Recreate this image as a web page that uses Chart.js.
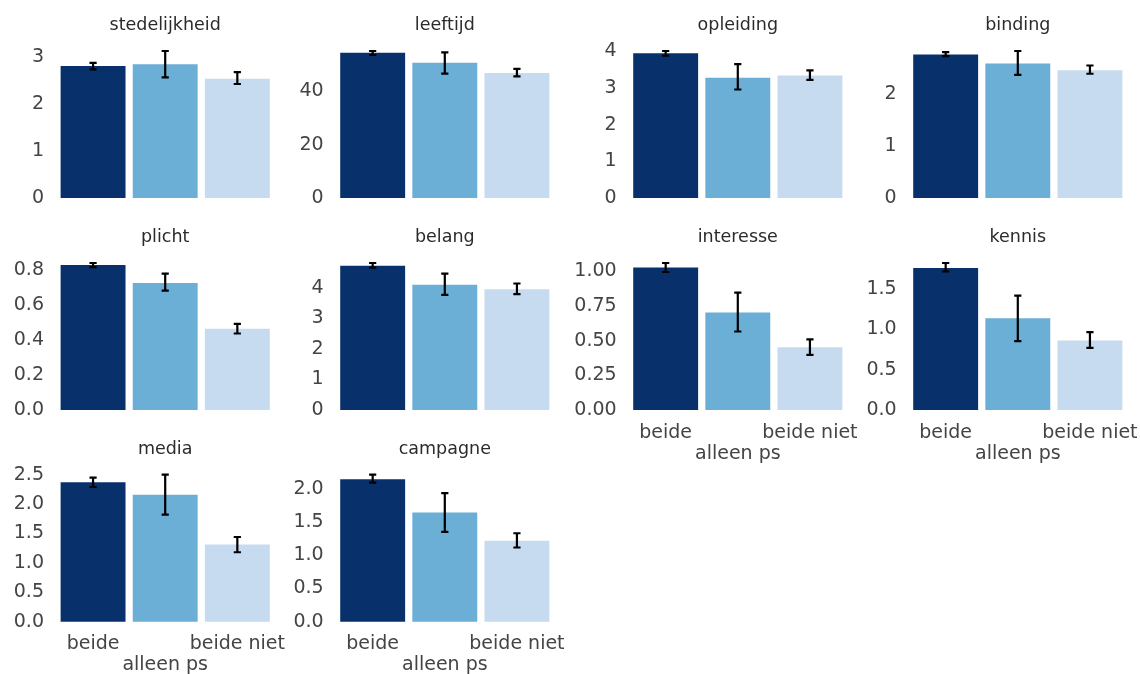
<!DOCTYPE html>
<html>
<head>
<meta charset="utf-8">
<script src="https://cdn.jsdelivr.net/npm/chart.js@4.4.1/dist/chart.umd.min.js"></script>
<style>
  html, body { margin: 0; padding: 0; background: #fff; }
  #wrap { position: relative; width: 1140px; height: 674px; overflow: hidden; }
  #wrap canvas { position: absolute; }
</style>
</head>
<body>
<div id="wrap"></div>
<script>
const categories = ['beide', 'alleen ps', 'beide niet'];
const titles = ['stedelijkheid', 'leeftijd', 'opleiding', 'binding',
                'plicht', 'belang', 'interesse', 'kennis',
                'media', 'campagne'];

// bar heights (means) per panel, in category order
const means = [
  [2.80, 2.84, 2.53],
  [54.4, 50.7, 46.9],
  [3.95, 3.28, 3.34],
  [2.77, 2.60, 2.47],
  [0.826, 0.724, 0.463],
  [4.72, 4.10, 3.95],
  [1.027, 0.703, 0.453],
  [1.763, 1.14, 0.864],
  [2.37, 2.16, 1.31],
  [2.15, 1.65, 1.22]
];
// error bar ends
const lower = [
  [2.73, 2.56, 2.42],
  [53.6, 46.6, 45.6],
  [3.88, 2.96, 3.22],
  [2.74, 2.38, 2.40],
  [0.815, 0.68, 0.436],
  [4.66, 3.77, 3.79],
  [0.995, 0.566, 0.398],
  [1.72, 0.855, 0.772],
  [2.29, 1.82, 1.18],
  [2.10, 1.355, 1.12]
];
const upper = [
  [2.87, 3.12, 2.67],
  [55.1, 54.6, 48.4],
  [4.01, 3.65, 3.48],
  [2.82, 2.84, 2.56],
  [0.838, 0.777, 0.491],
  [4.81, 4.46, 4.14],
  [1.06, 0.847, 0.509],
  [1.825, 1.42, 0.967],
  [2.45, 2.50, 1.44],
  [2.22, 1.94, 1.335]
];
const tickLabels = [
  ['0', '1', '2', '3'],
  ['0', '20', '40'],
  ['0', '1', '2', '3', '4'],
  ['0', '1', '2'],
  ['0.0', '0.2', '0.4', '0.6', '0.8'],
  ['0', '1', '2', '3', '4'],
  ['0.00', '0.25', '0.50', '0.75', '1.00'],
  ['0.0', '0.5', '1.0', '1.5'],
  ['0.0', '0.5', '1.0', '1.5', '2.0', '2.5'],
  ['0.0', '0.5', '1.0', '1.5', '2.0']
];
const barColors = ['#08306b', '#6baed6', '#c6dbef'];

// panel geometry
const colLeft = [57.0, 336.6, 629.6, 909.6];
const rowTop = [43.65, 255.65, 467.3];
const areaW = 216.4, areaH = 161.7;
const axisW = 60, padTop = 30, padRight = 20;
const withXLabels = [6, 7, 8, 9];

Chart.defaults.font.family = '"DejaVu Sans", sans-serif';
Chart.defaults.color = '#444';

const wrap = document.getElementById('wrap');

titles.forEach((title, p) => {
  const row = Math.floor(p / 4), col = p % 4;
  const showX = withXLabels.includes(p);
  const xAxisH = showX ? 55 : 30;

  const aLeft = colLeft[col], aTop = rowTop[row];
  const fx = aLeft - Math.floor(aLeft), fy = aTop - Math.floor(aTop);
  const W = axisW + Math.ceil(areaW + 1) + padRight;
  const H = Math.ceil(padTop + 1 + areaH + xAxisH);

  const canvas = document.createElement('canvas');
  canvas.width = W;
  canvas.height = H;
  canvas.style.left = (Math.floor(aLeft) - axisW) + 'px';
  canvas.style.top = (Math.floor(aTop) - padTop) + 'px';
  wrap.appendChild(canvas);

  const top = Math.max(...upper[p]);
  const tickVals = tickLabels[p].map(Number);

  const errorBars = {
    id: 'errorBars',
    afterDatasetsDraw(chart) {
      const ctx = chart.ctx;
      const meta = chart.getDatasetMeta(0);
      const y = chart.scales.y;
      ctx.save();
      ctx.strokeStyle = '#000';
      ctx.lineWidth = 2.2;
      meta.data.forEach((bar, i) => {
        const y0 = y.getPixelForValue(lower[p][i]);
        const y1 = y.getPixelForValue(upper[p][i]);
        ctx.beginPath();
        ctx.moveTo(bar.x, y0); ctx.lineTo(bar.x, y1);
        ctx.moveTo(bar.x - 3.6, y0); ctx.lineTo(bar.x + 3.6, y0);
        ctx.moveTo(bar.x - 3.6, y1); ctx.lineTo(bar.x + 3.6, y1);
        ctx.stroke();
      });
      ctx.restore();
    }
  };

  const panelTitle = {
    id: 'panelTitle',
    afterDraw(chart) {
      const a = chart.chartArea;
      const ctx = chart.ctx;
      ctx.save();
      ctx.font = '17.5px "DejaVu Sans", sans-serif';
      ctx.fillStyle = '#2b2b2b';
      ctx.textAlign = 'center';
      ctx.textBaseline = 'middle';
      ctx.fillText(title, (a.left + a.right) / 2, a.top - 18);
      ctx.restore();
    }
  };

  new Chart(canvas, {
    type: 'bar',
    data: {
      labels: categories,
      datasets: [{
        data: means[p],
        backgroundColor: barColors,
        borderWidth: 0,
        categoryPercentage: 0.9,
        barPercentage: 1.0
      }]
    },
    options: {
      responsive: false,
      animation: false,
      devicePixelRatio: 1,
      layout: {
        padding: {
          left: fx,
          top: padTop + fy,
          right: W - axisW - fx - areaW,
          bottom: H - padTop - fy - areaH - xAxisH
        }
      },
      plugins: {
        legend: { display: false },
        tooltip: { enabled: false }
      },
      scales: {
        x: {
          offset: true,
          grid: { display: false, drawTicks: false },
          border: { display: false },
          afterFit: s => { s.height = xAxisH; },
          ticks: {
            display: showX,
            autoSkip: false,
            maxRotation: 0,
            minRotation: 0,
            padding: 5,
            color: '#444',
            font: { size: 19, lineHeight: 1.1 },
            // middle category sits on a second line, as in the original
            callback: (v, i) => i === 1 ? ['', categories[i]] : [categories[i]]
          }
        },
        y: {
          min: -0.05 * top,
          max: 1.05 * top,
          grid: { display: false, drawTicks: false },
          border: { display: false },
          afterFit: s => { s.width = axisW; },
          afterBuildTicks: s => { s.ticks = tickVals.map(v => ({ value: v })); },
          ticks: {
            autoSkip: false,
            padding: 13,
            color: '#444',
            font: { size: 19 },
            callback: (v, i) => tickLabels[p][i]
          }
        }
      }
    },
    plugins: [errorBars, panelTitle]
  });
});
</script>
</body>
</html>
